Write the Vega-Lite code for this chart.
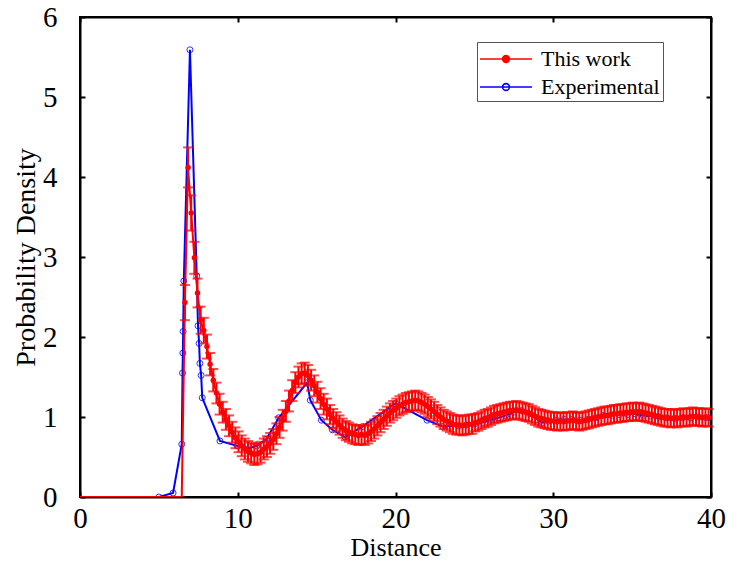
{
  "$schema": "https://vega.github.io/schema/vega-lite/v6.json",
  "width": 631,
  "height": 480,
  "autosize": "none",
  "padding": {"left": 80, "top": 17, "right": 30, "bottom": 72},
  "background": "white",
  "config": {
    "view": {"stroke": "black", "strokeWidth": 2},
    "font": "Liberation Serif"
  },
  "datasets": {
    "experimental": [
      {"d": 5.0, "g": 0}, {"d": 5.9, "g": 0.05}, {"d": 6.45, "g": 0.66}, {"d": 6.5, "g": 1.55},
      {"d": 6.52, "g": 1.8}, {"d": 6.54, "g": 2.07}, {"d": 6.58, "g": 2.7}, {"d": 6.97, "g": 5.59},
      {"d": 7.4, "g": 2.76}, {"d": 7.48, "g": 2.14}, {"d": 7.55, "g": 1.92}, {"d": 7.6, "g": 1.67},
      {"d": 7.68, "g": 1.52}, {"d": 7.75, "g": 1.24}, {"d": 8.87, "g": 0.7}, {"d": 9.95, "g": 0.64},
      {"d": 10.6, "g": 0.6}, {"d": 11.2, "g": 0.64}, {"d": 11.8, "g": 0.72}, {"d": 12.6, "g": 0.99},
      {"d": 14.4, "g": 1.43}, {"d": 14.6, "g": 1.21}, {"d": 15.3, "g": 0.96}, {"d": 16.0, "g": 0.84},
      {"d": 16.8, "g": 0.75}, {"d": 17.9, "g": 0.88}, {"d": 20.0, "g": 1.17}, {"d": 22.0, "g": 0.96},
      {"d": 23.0, "g": 0.88}, {"d": 24.0, "g": 0.89}, {"d": 24.5, "g": 0.9}, {"d": 25.0, "g": 0.91},
      {"d": 25.5, "g": 0.93}, {"d": 26.0, "g": 0.96}, {"d": 26.5, "g": 0.99}, {"d": 27.0, "g": 1.02},
      {"d": 27.5, "g": 1.06}, {"d": 28.0, "g": 1.08}, {"d": 28.5, "g": 1.04}, {"d": 29.0, "g": 0.97},
      {"d": 29.3, "g": 0.93}, {"d": 29.7, "g": 0.95}, {"d": 30.2, "g": 0.96}, {"d": 30.7, "g": 0.97},
      {"d": 31.2, "g": 0.97}, {"d": 31.7, "g": 0.96}, {"d": 32.2, "g": 0.97}, {"d": 32.7, "g": 0.99},
      {"d": 33.2, "g": 1.02}, {"d": 33.7, "g": 1.02}, {"d": 34.2, "g": 1.03}, {"d": 34.7, "g": 1.03},
      {"d": 35.2, "g": 1.04}, {"d": 35.7, "g": 1.02}, {"d": 36.2, "g": 1.01}, {"d": 36.7, "g": 1.0},
      {"d": 37.2, "g": 0.99}, {"d": 37.7, "g": 0.98}, {"d": 38.2, "g": 0.99}, {"d": 38.7, "g": 0.99},
      {"d": 39.2, "g": 1.0}, {"d": 39.7, "g": 0.99}, {"d": 40.0, "g": 0.99}
    ],
    "work": [
      {"d": 0, "g": 0, "e": 0}, {"d": 6.45, "g": 0, "e": 0},
      {"d": 6.65, "g": 2.43, "e": 0.22}, {"d": 6.85, "g": 4.12, "e": 0.25}, {"d": 7.05, "g": 3.55, "e": 0.22},
      {"d": 7.25, "g": 2.99, "e": 0.2}, {"d": 7.45, "g": 2.55, "e": 0.18}, {"d": 7.65, "g": 2.21, "e": 0.17},
      {"d": 7.85, "g": 2.08, "e": 0.16}, {"d": 8.05, "g": 1.88, "e": 0.15}, {"d": 8.25, "g": 1.66, "e": 0.14},
      {"d": 8.45, "g": 1.46, "e": 0.14}, {"d": 8.65, "g": 1.3, "e": 0.13}, {"d": 8.85, "g": 1.16, "e": 0.13},
      {"d": 9.05, "g": 1.06, "e": 0.13}, {"d": 9.25, "g": 0.97, "e": 0.13}, {"d": 9.45, "g": 0.89, "e": 0.13},
      {"d": 9.65, "g": 0.81, "e": 0.13}, {"d": 9.85, "g": 0.74, "e": 0.13}, {"d": 10.05, "g": 0.69, "e": 0.13},
      {"d": 10.25, "g": 0.64, "e": 0.13}, {"d": 10.45, "g": 0.6, "e": 0.13}, {"d": 10.65, "g": 0.57, "e": 0.13},
      {"d": 10.85, "g": 0.55, "e": 0.13}, {"d": 11.05, "g": 0.53, "e": 0.13}, {"d": 11.25, "g": 0.54, "e": 0.13},
      {"d": 11.45, "g": 0.56, "e": 0.13}, {"d": 11.65, "g": 0.6, "e": 0.13}, {"d": 11.85, "g": 0.63, "e": 0.13},
      {"d": 12.05, "g": 0.67, "e": 0.13}, {"d": 12.25, "g": 0.72, "e": 0.13}, {"d": 12.45, "g": 0.79, "e": 0.13},
      {"d": 12.65, "g": 0.87, "e": 0.13}, {"d": 12.85, "g": 0.96, "e": 0.13}, {"d": 13.05, "g": 1.07, "e": 0.13},
      {"d": 13.25, "g": 1.2, "e": 0.13}, {"d": 13.45, "g": 1.33, "e": 0.13}, {"d": 13.65, "g": 1.43, "e": 0.13},
      {"d": 13.85, "g": 1.5, "e": 0.13}, {"d": 14.05, "g": 1.54, "e": 0.13}, {"d": 14.25, "g": 1.55, "e": 0.13},
      {"d": 14.45, "g": 1.52, "e": 0.13}, {"d": 14.65, "g": 1.46, "e": 0.13}, {"d": 14.85, "g": 1.39, "e": 0.13},
      {"d": 15.05, "g": 1.31, "e": 0.13}, {"d": 15.25, "g": 1.23, "e": 0.13}, {"d": 15.45, "g": 1.16, "e": 0.13},
      {"d": 15.65, "g": 1.1, "e": 0.13}, {"d": 15.85, "g": 1.03, "e": 0.12}, {"d": 16.05, "g": 0.98, "e": 0.12},
      {"d": 16.25, "g": 0.94, "e": 0.12}, {"d": 16.45, "g": 0.9, "e": 0.12}, {"d": 16.65, "g": 0.86, "e": 0.12},
      {"d": 16.85, "g": 0.83, "e": 0.12}, {"d": 17.05, "g": 0.81, "e": 0.12}, {"d": 17.25, "g": 0.79, "e": 0.12},
      {"d": 17.45, "g": 0.78, "e": 0.12}, {"d": 17.65, "g": 0.77, "e": 0.12}, {"d": 17.85, "g": 0.78, "e": 0.12},
      {"d": 18.05, "g": 0.77, "e": 0.12}, {"d": 18.25, "g": 0.79, "e": 0.12}, {"d": 18.45, "g": 0.82, "e": 0.12},
      {"d": 18.65, "g": 0.85, "e": 0.12}, {"d": 18.85, "g": 0.89, "e": 0.12}, {"d": 19.05, "g": 0.93, "e": 0.12},
      {"d": 19.25, "g": 0.97, "e": 0.12}, {"d": 19.45, "g": 1.01, "e": 0.12}, {"d": 19.65, "g": 1.05, "e": 0.12},
      {"d": 19.85, "g": 1.08, "e": 0.12}, {"d": 20.05, "g": 1.11, "e": 0.12}, {"d": 20.25, "g": 1.14, "e": 0.12},
      {"d": 20.45, "g": 1.16, "e": 0.12}, {"d": 20.65, "g": 1.18, "e": 0.12}, {"d": 20.85, "g": 1.19, "e": 0.12},
      {"d": 21.05, "g": 1.2, "e": 0.12}, {"d": 21.25, "g": 1.21, "e": 0.12}, {"d": 21.45, "g": 1.2, "e": 0.12},
      {"d": 21.65, "g": 1.18, "e": 0.12}, {"d": 21.85, "g": 1.16, "e": 0.12}, {"d": 22.05, "g": 1.13, "e": 0.12},
      {"d": 22.25, "g": 1.1, "e": 0.12}, {"d": 22.45, "g": 1.07, "e": 0.12}, {"d": 22.65, "g": 1.03, "e": 0.12},
      {"d": 22.85, "g": 1.0, "e": 0.12}, {"d": 23.05, "g": 0.97, "e": 0.12}, {"d": 23.25, "g": 0.95, "e": 0.12},
      {"d": 23.45, "g": 0.93, "e": 0.12}, {"d": 23.65, "g": 0.91, "e": 0.12}, {"d": 23.85, "g": 0.9, "e": 0.12},
      {"d": 24.05, "g": 0.9, "e": 0.12}, {"d": 24.25, "g": 0.89, "e": 0.12}, {"d": 24.45, "g": 0.9, "e": 0.12},
      {"d": 24.65, "g": 0.91, "e": 0.12}, {"d": 24.85, "g": 0.91, "e": 0.12}, {"d": 25.05, "g": 0.93, "e": 0.11},
      {"d": 25.25, "g": 0.94, "e": 0.11}, {"d": 25.45, "g": 0.96, "e": 0.11}, {"d": 25.65, "g": 0.98, "e": 0.11},
      {"d": 25.85, "g": 0.99, "e": 0.11}, {"d": 26.05, "g": 1.01, "e": 0.11}, {"d": 26.25, "g": 1.03, "e": 0.11},
      {"d": 26.45, "g": 1.04, "e": 0.11}, {"d": 26.65, "g": 1.05, "e": 0.11}, {"d": 26.85, "g": 1.06, "e": 0.11},
      {"d": 27.05, "g": 1.07, "e": 0.11}, {"d": 27.25, "g": 1.08, "e": 0.11}, {"d": 27.45, "g": 1.08, "e": 0.11},
      {"d": 27.65, "g": 1.09, "e": 0.11}, {"d": 27.85, "g": 1.08, "e": 0.11}, {"d": 28.05, "g": 1.07, "e": 0.11},
      {"d": 28.25, "g": 1.06, "e": 0.11}, {"d": 28.45, "g": 1.05, "e": 0.11}, {"d": 28.65, "g": 1.03, "e": 0.11},
      {"d": 28.85, "g": 1.01, "e": 0.11}, {"d": 29.05, "g": 0.99, "e": 0.11}, {"d": 29.25, "g": 0.98, "e": 0.11},
      {"d": 29.45, "g": 0.97, "e": 0.11}, {"d": 29.65, "g": 0.96, "e": 0.11}, {"d": 29.85, "g": 0.95, "e": 0.11},
      {"d": 30.05, "g": 0.95, "e": 0.11}, {"d": 30.25, "g": 0.94, "e": 0.11}, {"d": 30.45, "g": 0.95, "e": 0.11},
      {"d": 30.65, "g": 0.94, "e": 0.11}, {"d": 30.85, "g": 0.95, "e": 0.11}, {"d": 31.05, "g": 0.95, "e": 0.11},
      {"d": 31.25, "g": 0.96, "e": 0.11}, {"d": 31.45, "g": 0.95, "e": 0.11}, {"d": 31.65, "g": 0.94, "e": 0.11},
      {"d": 31.85, "g": 0.95, "e": 0.11}, {"d": 32.05, "g": 0.96, "e": 0.11}, {"d": 32.25, "g": 0.97, "e": 0.11},
      {"d": 32.45, "g": 0.98, "e": 0.11}, {"d": 32.65, "g": 0.99, "e": 0.11}, {"d": 32.85, "g": 1.0, "e": 0.11},
      {"d": 33.05, "g": 1.01, "e": 0.11}, {"d": 33.25, "g": 1.02, "e": 0.11}, {"d": 33.45, "g": 1.02, "e": 0.11},
      {"d": 33.65, "g": 1.03, "e": 0.11}, {"d": 33.85, "g": 1.04, "e": 0.11}, {"d": 34.05, "g": 1.04, "e": 0.11},
      {"d": 34.25, "g": 1.05, "e": 0.11}, {"d": 34.45, "g": 1.05, "e": 0.11}, {"d": 34.65, "g": 1.06, "e": 0.11},
      {"d": 34.85, "g": 1.06, "e": 0.11}, {"d": 35.05, "g": 1.07, "e": 0.11}, {"d": 35.25, "g": 1.06, "e": 0.11},
      {"d": 35.45, "g": 1.07, "e": 0.11}, {"d": 35.65, "g": 1.06, "e": 0.11}, {"d": 35.85, "g": 1.05, "e": 0.11},
      {"d": 36.05, "g": 1.04, "e": 0.11}, {"d": 36.25, "g": 1.03, "e": 0.11}, {"d": 36.45, "g": 1.02, "e": 0.11},
      {"d": 36.65, "g": 1.01, "e": 0.11}, {"d": 36.85, "g": 1.0, "e": 0.11}, {"d": 37.05, "g": 0.99, "e": 0.11},
      {"d": 37.25, "g": 0.99, "e": 0.11}, {"d": 37.45, "g": 0.98, "e": 0.11}, {"d": 37.65, "g": 0.99, "e": 0.11},
      {"d": 37.85, "g": 0.98, "e": 0.11}, {"d": 38.05, "g": 0.99, "e": 0.11}, {"d": 38.25, "g": 1.0, "e": 0.11},
      {"d": 38.45, "g": 0.99, "e": 0.11}, {"d": 38.65, "g": 1.0, "e": 0.11}, {"d": 38.85, "g": 1.01, "e": 0.11},
      {"d": 39.05, "g": 1.0, "e": 0.11}, {"d": 39.25, "g": 1.0, "e": 0.11}, {"d": 39.45, "g": 0.99, "e": 0.11},
      {"d": 39.65, "g": 1.0, "e": 0.11}, {"d": 39.85, "g": 0.99, "e": 0.11}
    ]
  },
  "layer": [
    {
      "data": {"name": "experimental"},
      "mark": {"type": "line", "strokeWidth": 2, "clip": true},
      "encoding": {
        "x": {
          "field": "d", "type": "quantitative",
          "scale": {"domain": [0, 40], "nice": false, "zero": false},
          "axis": {
            "orient": "top", "values": [0, 10, 20, 30, 40], "labels": false, "title": null,
            "tickSize": -5, "tickWidth": 2, "tickColor": "black",
            "domainColor": "black", "domainWidth": 2, "grid": false
          }
        },
        "y": {
          "field": "g", "type": "quantitative",
          "scale": {"domain": [0, 6], "nice": false},
          "axis": {
            "orient": "right", "values": [0, 1, 2, 3, 4, 5, 6], "labels": false, "title": null,
            "tickSize": -5, "tickWidth": 2, "tickColor": "black",
            "domainColor": "black", "domainWidth": 2, "grid": false
          }
        },
        "color": {
          "datum": "Experimental", "type": "nominal",
          "scale": {"domain": ["This work", "Experimental"], "range": ["#ff0000", "#0000ff"]},
          "legend": {
            "orient": "none", "legendX": 397, "legendY": 25, "title": null,
            "symbolType": "M-2,0L2,0M-0.26,0A0.26,0.26 0 1,0 0.26,0A0.26,0.26 0 1,0 -0.26,0Z",
            "symbolSize": 676, "symbolStrokeWidth": 1.6, "symbolOffset": 12,
            "labelFont": "Liberation Serif", "labelFontSize": 22, "labelColor": "black",
            "labelOffset": 21, "rowPadding": 3, "padding": 3,
            "strokeColor": "#555555", "fillColor": "white",
            "encode": {
              "symbols": {
                "update": {
                  "fill": {"signal": "datum.value === 'This work' ? '#ff0000' : '#ffffff'"}
                }
              }
            }
          }
        }
      }
    },
    {
      "data": {"name": "experimental"},
      "mark": {"type": "point", "filled": false, "color": "#0000ff", "size": 36, "strokeWidth": 1, "opacity": 0.8, "clip": true},
      "encoding": {
        "x": {"field": "d", "type": "quantitative", "axis": null},
        "y": {"field": "g", "type": "quantitative", "axis": null}
      }
    },
    {
      "data": {"name": "work"},
      "transform": [{"filter": "datum.e > 0"}],
      "mark": {"type": "errorbar", "color": "#ff0000", "thickness": 2, "ticks": {"size": 10, "thickness": 2, "color": "#ff0000"}},
      "encoding": {
        "x": {"field": "d", "type": "quantitative", "axis": null},
        "y": {"field": "g", "type": "quantitative", "axis": null},
        "yError": {"field": "e"}
      }
    },
    {
      "data": {"name": "work"},
      "mark": {"type": "line", "strokeWidth": 2, "clip": true},
      "encoding": {
        "x": {
          "field": "d", "type": "quantitative",
          "axis": {
            "orient": "bottom", "values": [0, 10, 20, 30, 40], "title": "Distance",
            "titleFont": "Liberation Serif", "titleFontSize": 26, "titleFontWeight": "normal", "titleColor": "black",
            "titlePadding": 1,
            "labelFont": "Liberation Serif", "labelFontSize": 29, "labelColor": "black", "labelFlush": false,
            "labelPadding": 12,
            "tickSize": -5, "tickWidth": 2, "tickColor": "black",
            "domainColor": "black", "domainWidth": 2, "grid": false
          }
        },
        "y": {
          "field": "g", "type": "quantitative",
          "axis": {
            "orient": "left", "values": [0, 1, 2, 3, 4, 5, 6], "title": "Probability Density",
            "titleFont": "Liberation Serif", "titleFontSize": 28, "titleFontWeight": "normal", "titleColor": "black",
            "titlePadding": 2,
            "labelFont": "Liberation Serif", "labelFontSize": 29, "labelColor": "black",
            "labelPadding": 28,
            "tickSize": -5, "tickWidth": 2, "tickColor": "black",
            "domainColor": "black", "domainWidth": 2, "grid": false
          }
        },
        "color": {"datum": "This work", "type": "nominal"}
      }
    },
    {
      "data": {"name": "work"},
      "transform": [{"filter": "datum.e > 0"}],
      "mark": {"type": "point", "filled": true, "color": "#ff0000", "size": 30, "opacity": 1},
      "encoding": {
        "x": {"field": "d", "type": "quantitative", "axis": null},
        "y": {"field": "g", "type": "quantitative", "axis": null}
      }
    }
  ],
  "resolve": {"axis": {"x": "independent", "y": "independent"}}
}
